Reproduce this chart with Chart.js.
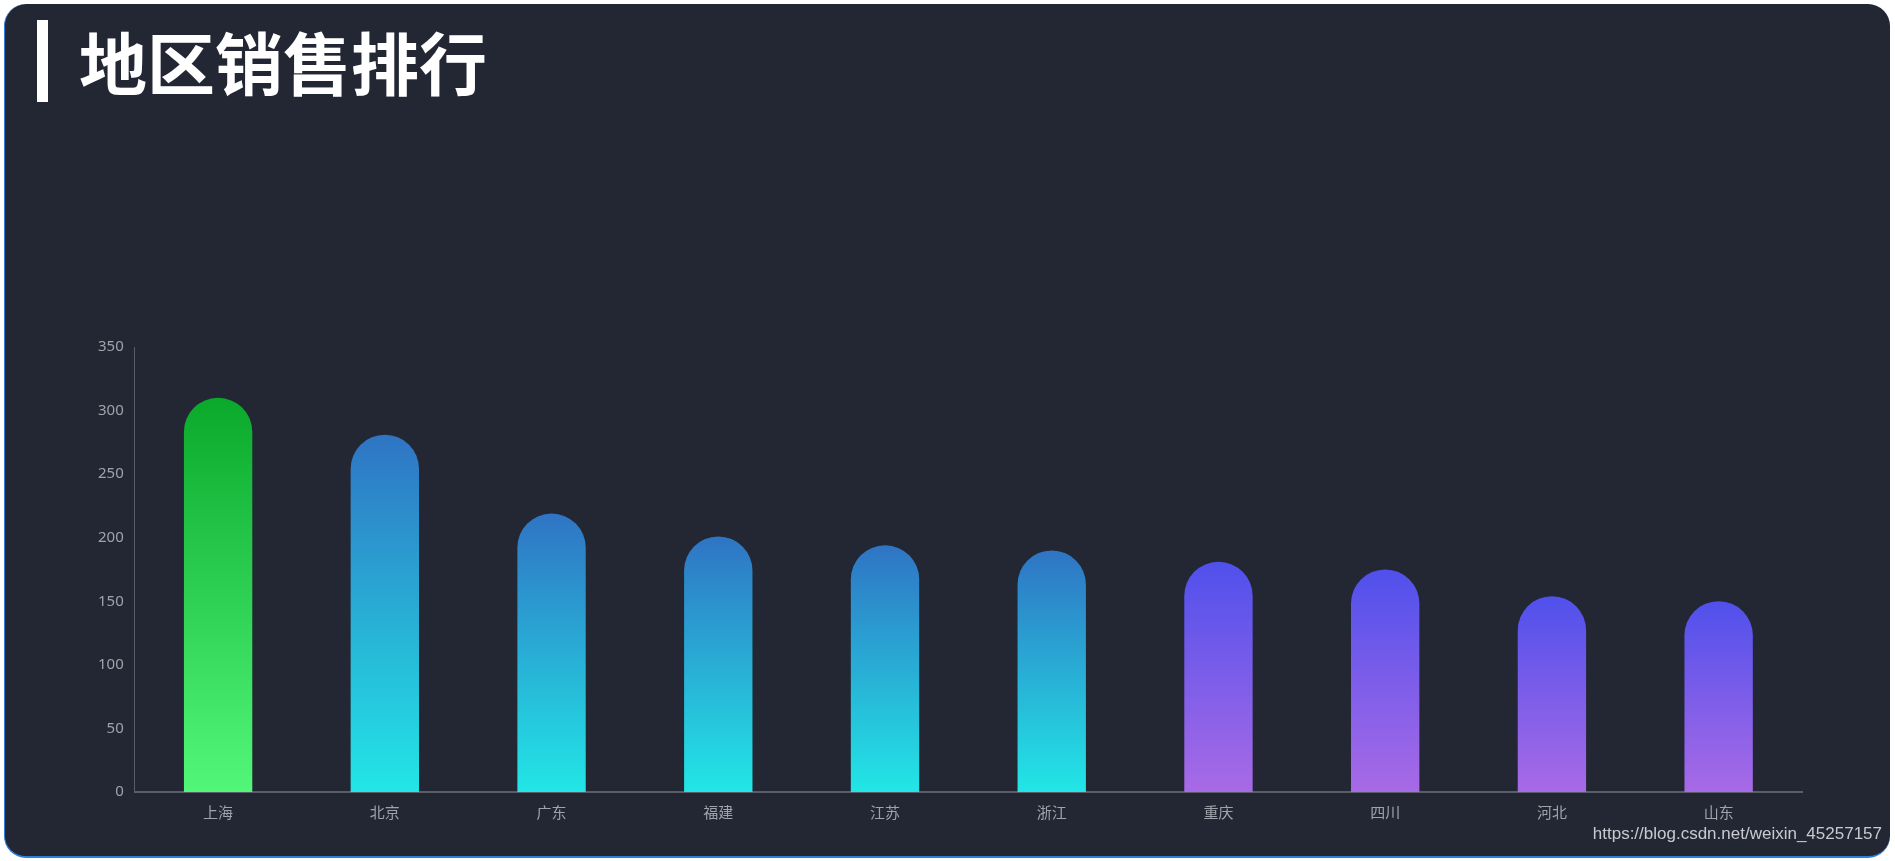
<!DOCTYPE html>
<html>
<head>
<meta charset="utf-8">
<script src="https://cdn.jsdelivr.net/npm/chart.js@4/dist/chart.umd.min.js"></script>
<style>
  html, body { margin: 0; padding: 0; background: #fff; }
  #panel {
    position: absolute; left: 4px; top: 4px; width: 1886px; height: 854px;
    background: #222733; border-radius: 22px; border-left: 1px solid #2d7fd8; border-bottom: 2px solid #2d7fd8;
    box-sizing: border-box; overflow: hidden;
  }
  #bar { position: absolute; left: 32px; top: 16px; width: 11px; height: 82px; background: #fff; }
  #title { position: absolute; left: 74px; top: 14px; color: #fff; font: bold 68px "Noto Sans CJK SC", sans-serif; line-height: 86px; letter-spacing: 0px; }
  #wm { position: absolute; right: 8px; bottom: 12px; color: #c8cad0; font: 17px "Liberation Sans", Arial, sans-serif; }
  #wrap { position: absolute; left: 0; top: 0; width: 1886px; height: 854px; }
</style>
</head>
<body>
<div id="panel">
  <div id="bar"></div>
  <div id="title">地区销售排行</div>
  <div id="wrap"><canvas id="c"></canvas></div>
  <div id="wm">https://blog.csdn.net/weixin_45257157</div>
</div>
<script>
const regions = ['上海', '北京', '广东', '福建', '江苏', '浙江', '重庆', '四川', '河北', '山东'];
const sales = [310, 281, 219, 201, 194, 190, 181, 175, 154, 150];
const yTicks = [0, 50, 100, 150, 200, 250, 300, 350];

// 颜色组：顶部 / 底部
const palettes = [
    ['#0aa92c', '#52f77a'],
    ['#2f74c4', '#22e6e6'], ['#2f74c4', '#22e6e6'], ['#2f74c4', '#22e6e6'], ['#2f74c4', '#22e6e6'], ['#2f74c4', '#22e6e6'],
    ['#5050ec', '#a86ae6'], ['#5050ec', '#a86ae6'], ['#5050ec', '#a86ae6'], ['#5050ec', '#a86ae6']
];

function barGradient(context) {
    const chart = context.chart;
    if (!chart.chartArea) return palettes[context.dataIndex][0];
    const y = chart.scales.y;
    const top = y.getPixelForValue(sales[context.dataIndex]);
    const bottom = y.getPixelForValue(0);
    const g = chart.ctx.createLinearGradient(0, top, 0, bottom);
    g.addColorStop(0, palettes[context.dataIndex][0]);
    g.addColorStop(1, palettes[context.dataIndex][1]);
    return g;
}

new Chart(document.getElementById('c'), {
    type: 'bar',
    data: {
        labels: regions,
        datasets: [{
            data: sales,
            backgroundColor: barGradient,
            borderRadius: { topLeft: 34, topRight: 34, bottomLeft: 0, bottomRight: 0 },
            borderSkipped: 'bottom',
            barPercentage: 0.41,
            categoryPercentage: 1
        }]
    },
    options: {
        responsive: true,
        maintainAspectRatio: false,
        animation: false,
        layout: { padding: { top: 343, left: 90, right: 89, bottom: 34 } },
        plugins: { legend: { display: false }, tooltip: { enabled: false } },
        scales: {
            x: {
                grid: { display: false },
                border: { color: '#5a5d66', width: 2 },
                ticks: { color: '#a0a3ab', font: { size: 15, family: 'Noto Sans CJK SC' } }
            },
            y: {
                min: 0, max: 350,
                afterBuildTicks: axis => { axis.ticks = yTicks.map(v => ({ value: v })); },
                grid: { display: false },
                border: { color: '#5a5d66', width: 1 },
                ticks: { color: '#a0a3ab', font: { size: 15, family: 'Noto Sans' } }
            }
        }
    }
});
</script>
</body>
</html>
